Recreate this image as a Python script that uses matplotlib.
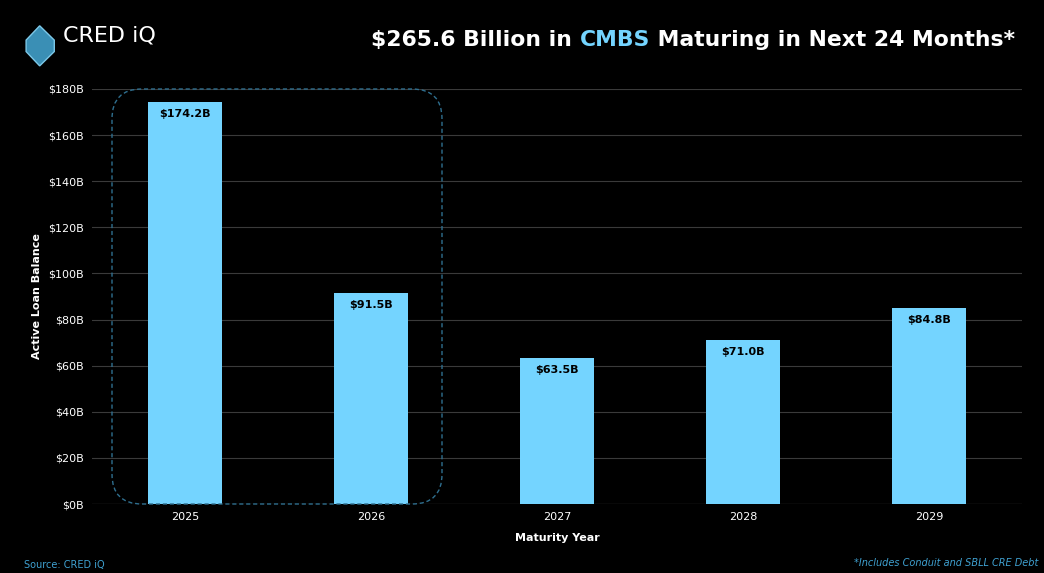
import matplotlib
matplotlib.use("Agg")
import matplotlib.pyplot as plt
from matplotlib.patches import FancyBboxPatch, Polygon

years = ["2025", "2026", "2027", "2028", "2029"]
values = [174.2, 91.5, 63.5, 71.0, 84.8]
labels = ["$174.2B", "$91.5B", "$63.5B", "$71.0B", "$84.8B"]
yticks = [0, 20, 40, 60, 80, 100, 120, 140, 160, 180]

W, H = 1044, 573
fig = plt.figure(figsize=(W/100, H/100), dpi=100, facecolor="black")
ax = fig.add_axes([92/W, 1-504/H, 930/W, 415/H], facecolor="black")
x = list(range(len(years)))
ax.bar(x, values, width=0.4, color="#74d4ff", zorder=3)
for xi, v, l in zip(x, values, labels):
    ax.text(xi, v - 3, l, ha="center", va="top", fontsize=8, fontweight="bold", color="black", zorder=4)
ax.set_xlim(-0.5, 4.5)
ax.set_ylim(0, 180)
ax.set_yticks(yticks)
ax.set_yticklabels([f"${t}B" for t in yticks], color="white", fontsize=8)
ax.set_xticks(x)
ax.set_xticklabels(years, color="white", fontsize=8)
ax.grid(axis="y", color="#3a3a3a", linewidth=0.8, zorder=0)
for s in ax.spines.values():
    s.set_visible(False)
ax.axhline(0, color="#666666", linewidth=0.8, zorder=2)
ax.tick_params(length=0, pad=6)
ax.set_ylabel("Active Loan Balance", color="white", fontsize=8, fontweight="bold")
ax.set_xlabel("Maturity Year", color="white", fontsize=8, fontweight="bold", labelpad=8)

box = FancyBboxPatch((112+30, H-504+30), 330-60, 415-60, boxstyle="round,pad=30",
                     transform=None, fill=False, edgecolor="#2f6f8f", linestyle=(0, (3, 2)),
                     linewidth=1.0, zorder=5)
fig.patches.append(box)

fig.canvas.draw()
r = fig.canvas.get_renderer()
parts = [("$265.6 Billion in ", "white"), ("CMBS", "#74d4ff"), (" Maturing in Next 24 Months*", "white")]
fs = 17
texts = []
total = 0
for txt, c in parts:
    tt = fig.text(0, 1-40/H, txt, ha="left", va="center", color=c, fontsize=fs, fontweight="bold")
    texts.append(tt)
total = sum(t.get_window_extent(r).width for t in texts)
scale = 642 / total
for t in texts:
    t.set_fontsize(fs * scale)
xpos = 1015 - sum(t.get_window_extent(r).width for t in texts)
for t in texts:
    t.set_x(xpos / W)
    xpos += t.get_window_extent(r).width

fig.patches.append(Polygon([[0.025, 0.93], [0.038, 0.955], [0.052, 0.93], [0.052, 0.91], [0.038, 0.885], [0.025, 0.91]],
                           closed=True, transform=fig.transFigure, facecolor="#3a8fb5", edgecolor="#7cc8e8"))
fig.text(0.06, 1-35/H, "CRED iQ", color="white", fontsize=16, va="center", ha="left")

fig.text(24/W, 1-565/H, "Source: CRED iQ", color="#3fa0d0", fontsize=7, va="center")
fig.text(1-6/W, 1-563/H, "*Includes Conduit and SBLL CRE Debt", color="#3fa0d0", fontsize=7,
         va="center", ha="right", style="italic")

fig.savefig("out.png", dpi=100, facecolor="black")
